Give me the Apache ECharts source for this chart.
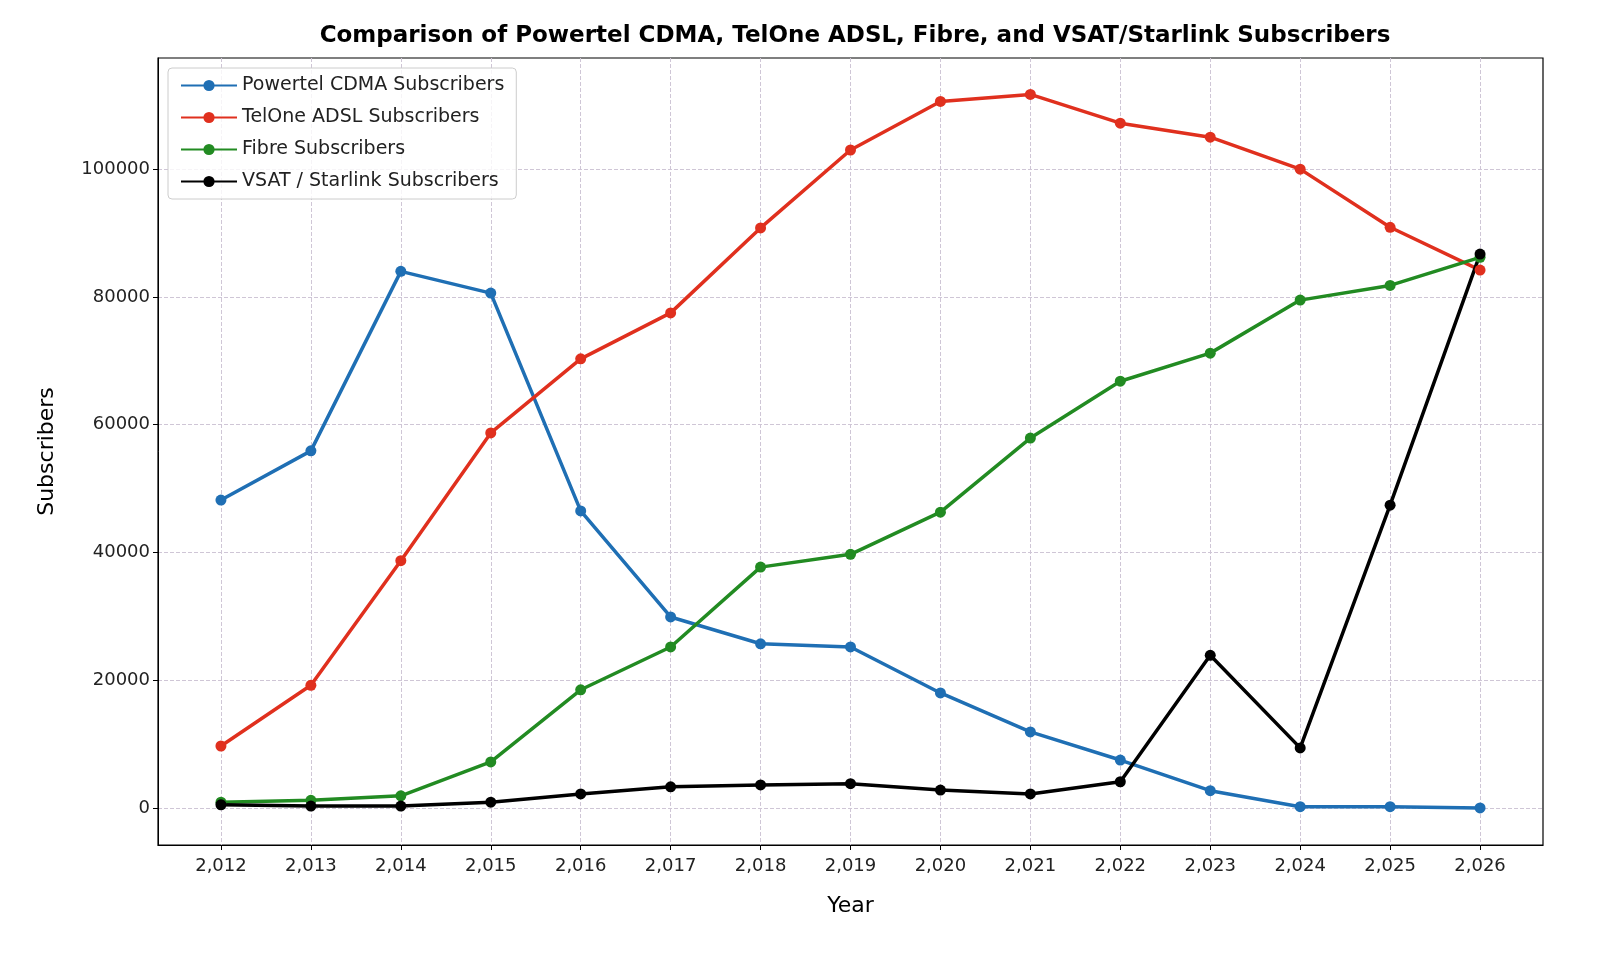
<!DOCTYPE html>
<html>
<head>
<meta charset="utf-8">
<script src="https://cdn.jsdelivr.net/npm/echarts@6/dist/echarts.min.js"></script>
<style>html,body{margin:0;background:#fff}#chart{width:1600px;height:960px}</style>
</head>
<body>
<div id="chart"></div>
<script>
var years = [2012, 2013, 2014, 2015, 2016, 2017, 2018, 2019, 2020, 2021, 2022, 2023, 2024, 2025, 2026];
var cdma = [48200, 55900, 84000, 80600, 46500, 29900, 25700, 25200, 18000, 11900, 7500, 2700, 200, 200, 0];
var adsl = [9700, 19200, 38700, 58700, 70300, 77500, 90800, 103000, 110600, 111700, 107200, 105000, 100000, 90900, 84200];
var fibre = [900, 1200, 1900, 7200, 18500, 25200, 37700, 39700, 46300, 57900, 66800, 71200, 79500, 81800, 86200];
var vsat = [500, 300, 300, 900, 2200, 3300, 3600, 3800, 2800, 2200, 4100, 23900, 9400, 47400, 86700];
var yTicks = [0, 20000, 40000, 60000, 80000, 100000];

var chart = echarts.init(document.getElementById('chart'));
var font = 'DejaVu Sans';
function line(name, vals, color) {
    return {
        name: name, type: 'line',
        data: years.map(function (y, i) { return [y, vals[i]]; }),
        symbol: 'circle', symbolSize: 11,
        lineStyle: {width: 3.5, color: color},
        itemStyle: {color: color},
        emphasis: {disabled: true}
    };
}
chart.setOption({
    animation: false,
    textStyle: {fontFamily: font},
    title: {
        text: 'Comparison of Powertel CDMA, TelOne ADSL, Fibre, and VSAT/Starlink Subscribers',
        left: 850, top: 20, textAlign: 'center',
        textStyle: {fontSize: 23, fontWeight: 'bold', color: '#000', fontFamily: font}
    },
    legend: {
        orient: 'vertical', left: 168, top: 68,
        itemWidth: 56, itemHeight: 14, itemGap: 13,
        borderColor: '#ccc', borderWidth: 1, borderRadius: 4, padding: [8, 12],
        backgroundColor: 'rgba(255,255,255,0.8)',
        textStyle: {fontSize: 19, color: '#222'},
        data: ['Powertel CDMA Subscribers', 'TelOne ADSL Subscribers', 'Fibre Subscribers', 'VSAT / Starlink Subscribers']
    },
    grid: {left: 158, right: 57, top: 58, bottom: 115, containLabel: false, show: true, borderColor: '#000', borderWidth: 1.2},
    xAxis: {
        type: 'value', min: 2011.3, max: 2026.7,
        name: 'Year', nameLocation: 'middle', nameGap: 50,
        nameTextStyle: {fontSize: 22, color: '#000'},
        axisLine: {onZero: false, lineStyle: {color: '#000'}},
        axisTick: {customValues: years, lineStyle: {color: '#000'}},
        axisLabel: {fontSize: 18, color: '#222', margin: 12, customValues: years},
        splitLine: {show: true, lineStyle: {type: 'dashed', color: '#cfc6d6'}}
    },
    yAxis: {
        type: 'value', min: -5800, max: 117400,
        name: 'Subscribers', nameLocation: 'middle', nameGap: 100,
        nameTextStyle: {fontSize: 22, color: '#000'},
        axisLine: {show: true, onZero: false, lineStyle: {color: '#000'}},
        axisTick: {show: true, customValues: yTicks, lineStyle: {color: '#000'}},
        axisLabel: {fontSize: 18, color: '#222', customValues: yTicks, formatter: function (v) { return String(v); }},
        splitLine: {show: true, lineStyle: {type: 'dashed', color: '#cfc6d6'}}
    },
    series: [
        line('Powertel CDMA Subscribers', cdma, '#1f6fb4'),
        line('TelOne ADSL Subscribers', adsl, '#e0301e'),
        line('Fibre Subscribers', fibre, '#228b22'),
        line('VSAT / Starlink Subscribers', vsat, '#000000')
    ]
});
</script>
</body>
</html>
